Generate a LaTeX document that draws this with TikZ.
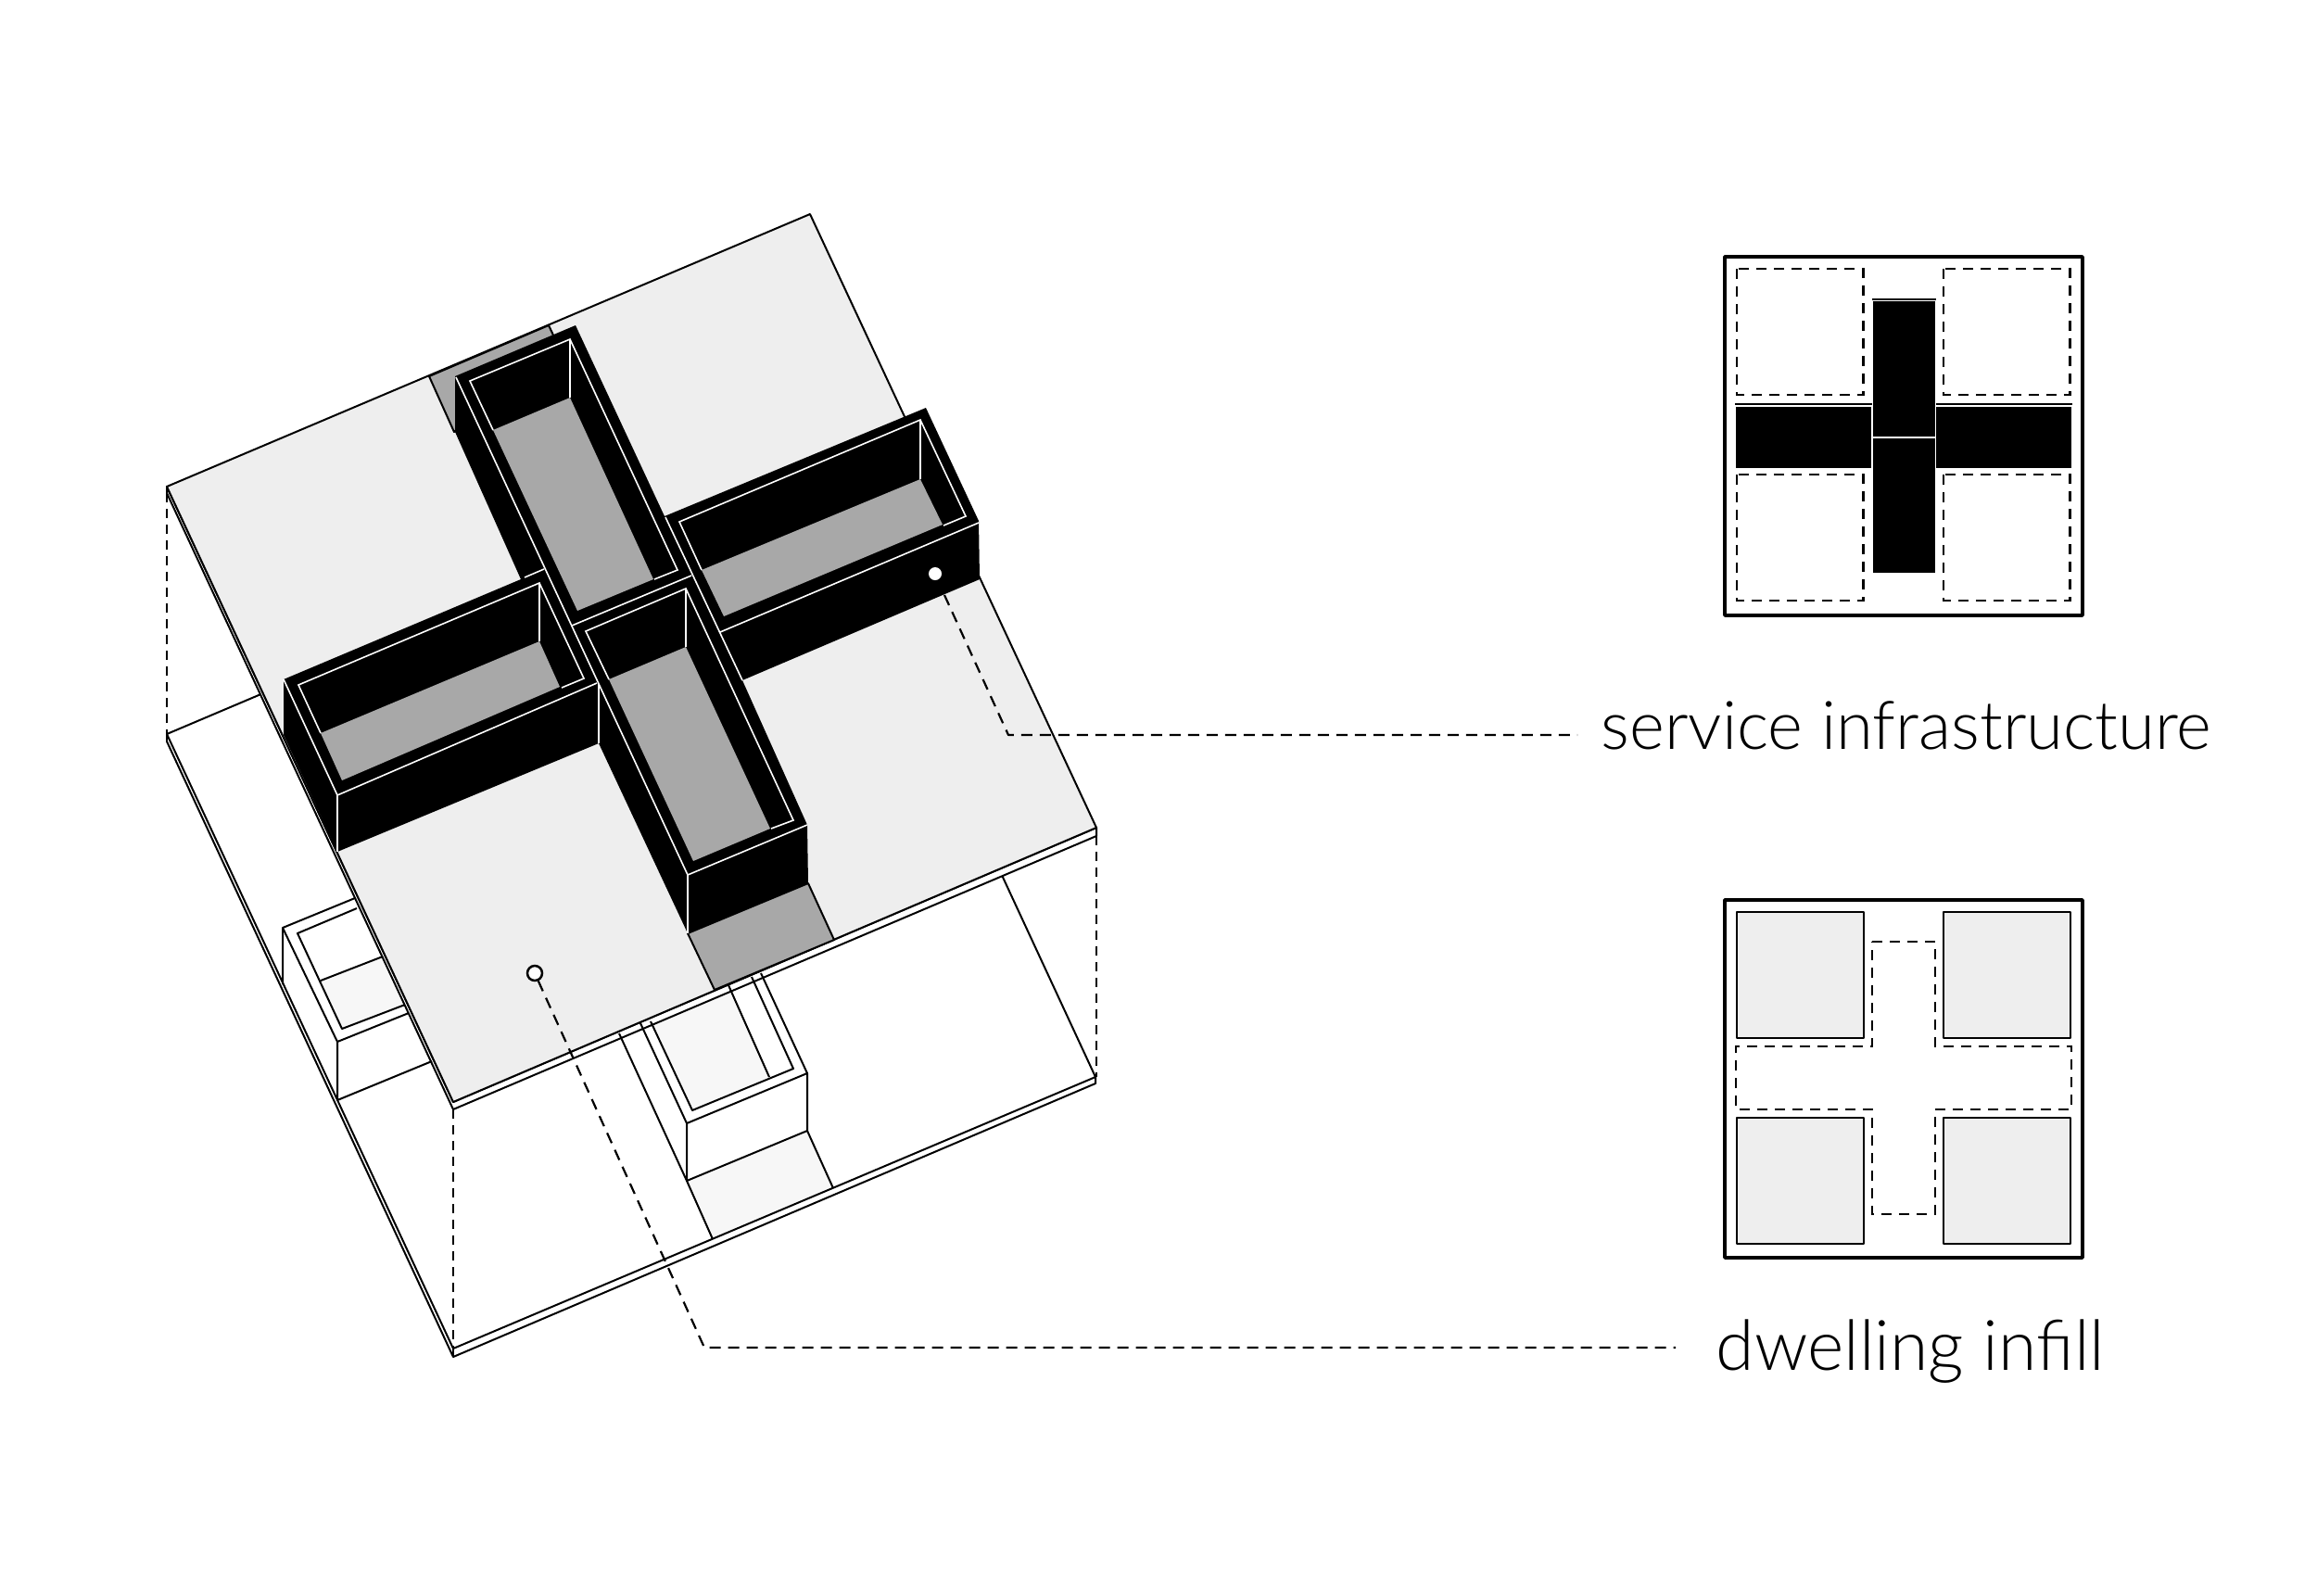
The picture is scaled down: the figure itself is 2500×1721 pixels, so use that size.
\documentclass[tikz,border=0pt]{standalone}
\usepackage{fontspec}
\usetikzlibrary{positioning}
\newfontfamily\labelfont{Lato Light}
\definecolor{slabgrey}{RGB}{238, 238, 238}
\definecolor{floorgrey}{RGB}{247, 247, 247}
\definecolor{coregrey}{RGB}{168, 168, 168}
\begin{document}
\begin{tikzpicture}[
        x=0.1mm, y=-0.1mm,
        edge/.style={line width=0.2mm, line join=round},
        whiteedge/.style={white, line width=0.16mm, line join=miter},
        frame/.style={line width=0.36mm, line join=round},
        planbox/.style={line width=0.22mm, dash pattern=on 1.1mm off 0.8mm},
        projection/.style={line width=0.16mm, dash pattern=on 1mm off 0.7mm},
        leader/.style={line width=0.22mm, dash pattern=on 1.2mm off 0.8mm, line join=round},
        textlabel/.style={font=\labelfont\fontsize{20.6}{24}\selectfont, inner sep=0pt, anchor=base west},
    ]
    \useasboundingbox (0,0) rectangle (2500,1721);
    % lower floors
    \fill[floorgrey] (346,1058) -- (413,1032) -- (437,1084) -- (369,1110) -- cycle;
    \fill[floorgrey] (702,1102) -- (787,1065) -- (830,1162) -- (747,1198) -- cycle;
    \fill[floorgrey] (741,1274) -- (871,1220) -- (899,1282) -- (769,1337) -- cycle;
    % lower slab
    \draw[edge] (180,792) -- (874,498) -- (1182,1162) -- (489,1455) -- cycle;
    \draw[edge] (180,800) -- (489,1464) -- (1182,1169) -- (1182,1162);
    \draw[edge] (489,1455) -- (489,1464);
    \draw[edge] (180,792) -- (180,800);
    % upper slab, thickness
    \draw[edge, fill=white] (180,525) -- (180,532) -- (489,1197) -- (1183,902) -- (1183,893) -- (489,1189) -- cycle;
    % left dwelling
    \draw[edge] (305,1062) -- (305,1001) -- (383,969);
    \draw[edge] (305,1001) -- (364,1124) -- (441,1093);
    \draw[edge] (364,1124) -- (364,1187) -- (466,1145);
    \draw[edge] (385,980) -- (321,1007) -- (369,1110) -- (437,1084);
    \draw[edge] (346,1058) -- (413,1032);
    % right dwelling
    \draw[edge] (668,1115) -- (741,1274) -- (741,1212) -- (691,1104);
    \draw[edge] (741,1212) -- (871,1158) -- (821,1050);
    \draw[edge] (871,1158) -- (871,1220) -- (741,1274);
    \draw[edge] (702,1102) -- (747,1198) -- (856,1153) -- (811,1054);
    \draw[edge] (786,1063) -- (830,1162);
    \draw[edge] (871,1220) -- (899,1282);
    \draw[edge] (741,1274) -- (769,1337);
    % upper slab, face
    \draw[edge, fill=slabgrey] (180,525) -- (874,231) -- (1183,893) -- (489,1189) -- cycle;
    % core strips
    \draw[edge, fill=coregrey] (463,406) -- (592,351) -- (600,368) -- (490,466) -- cycle;
    \draw[edge, fill=coregrey] (742,1007) -- (872,953) -- (900,1014) -- (771,1068) -- cycle;
    % projection lines
    \draw[projection] (180,532) -- (180,792);
    \draw[projection] (489,1197) -- (489,1455);
    \draw[projection] (1183,902) -- (1183,1162);
    % service cross
    \fill (491,406) -- (621,351) -- (717,557) -- (999,440) -- (1056,562) -- (1057,625)
        -- (801,734) -- (871,890) -- (872,953) -- (742,1007) -- (646,802) -- (364,919)
        -- (306,793) -- (306,733) -- (562,625) -- (491,466) -- cycle;
    % floors
    \fill[coregrey] (532,464) -- (615,429) -- (705,625) -- (623,659) -- cycle;
    \fill[coregrey] (346,791) -- (582,692) -- (604,741) -- (369,842) -- cycle;
    \fill[coregrey] (757,615) -- (993,517) -- (1017,566) -- (781,665) -- cycle;
    \fill[coregrey] (657,733) -- (740,698) -- (831,894) -- (748,929) -- cycle;
    % rim lines
    \draw[whiteedge] (492,407) -- (742,944) -- (871,890);
    \draw[whiteedge] (617,675) -- (746,621);
    \draw[whiteedge] (718,558) -- (801,734);
    \draw[whiteedge] (306,733) -- (364,858) -- (644,737);
    \draw[whiteedge] (566,623) -- (587,614);
    \draw[whiteedge] (777,682) -- (1056,564);
    % inner rims
    \draw[whiteedge] (532,464) -- (507,411) -- (615,366) -- (731,615) -- (706,625);
    \draw[whiteedge] (346,791) -- (322,739) -- (582,629) -- (630,732) -- (606,742);
    \draw[whiteedge] (757,615) -- (733,563) -- (993,453) -- (1042,557) -- (1018,567);
    \draw[whiteedge] (657,733) -- (632,681) -- (740,635) -- (856,885) -- (832,894);
    % inner corners
    \draw[whiteedge] (615,366) -- (615,429);
    \draw[whiteedge] (582,629) -- (582,692);
    \draw[whiteedge] (993,453) -- (993,517);
    \draw[whiteedge] (740,635) -- (740,698);
    \draw[whiteedge] (646,738) -- (646,802);
    \draw[whiteedge] (742,944) -- (742,1007);
    \draw[whiteedge] (364,858) -- (364,919);
    % labels and leaders
    \node[textlabel] (serviceLabel) at (1727,808) {service infrastructure};
    \node[textlabel, font=\labelfont\fontsize{21.4}{24}\selectfont] (dwellingLabel) at (1851,1478) {dwelling infill};
    \node[circle, fill=white, inner sep=0pt, minimum size=1.4mm] (serviceDot) at (1009,619) {};
    \node[circle, draw, line width=0.25mm, fill=white, inner sep=0pt, minimum size=1.6mm] (dwellingDot) at (577,1050) {};
    \coordinate (serviceBend) at (1088,793);
    \coordinate (serviceEnd) at (1702,793);
    \coordinate (dwellingBend) at (760,1454);
    \coordinate (dwellingEnd) at (1808,1454);
    \draw[leader] (1019,642) -- (serviceBend) -- (serviceEnd);
    \draw[leader] (dwellingDot) -- (dwellingBend) -- (dwellingEnd);
    % service plan
    \draw[frame] (1861,277) rectangle (2247,664);
    \foreach \px/\py in {1874/290, 2097/290, 1874/512, 2097/512} {
        \draw[planbox] (\px,\py) rectangle ++(136.5,136);
    }
    \fill (2021,325) rectangle (2088,618);
    \fill (1873,439) rectangle (2019,505);
    \fill (2089,439) rectangle (2235,505);
    \draw[edge] (2020,323) -- (2089,323);
    \draw[edge] (1872,436) -- (2020,436);
    \draw[edge] (2089,436) -- (2236,436);
    \draw[whiteedge] (2021,472) -- (2088,472);
    % dwelling plan
    \draw[frame] (1861,971) rectangle (2247,1357);
    \foreach \px/\py in {1874/984, 2097/984, 1874/1206, 2097/1206} {
        \draw[edge, fill=slabgrey] (\px,\py) rectangle ++(136.5,136);
    }
    \draw[planbox] (2020,1016) -- (2088,1016) -- (2088,1129) -- (2235,1129) -- (2235,1197)
        -- (2088,1197) -- (2088,1310) -- (2020,1310) -- (2020,1197) -- (1873,1197)
        -- (1873,1129) -- (2020,1129) -- cycle;
\end{tikzpicture}
\end{document}
